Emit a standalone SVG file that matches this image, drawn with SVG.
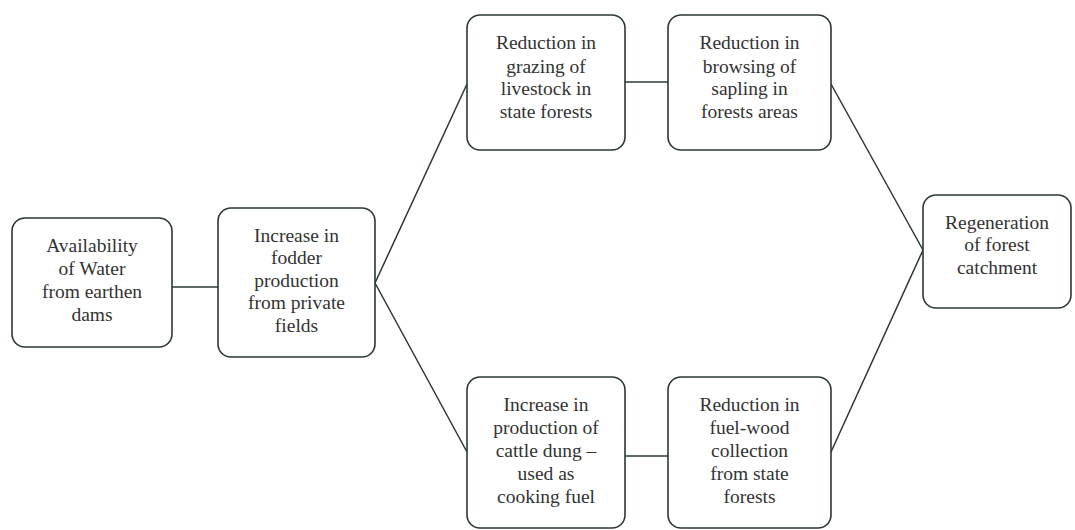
<svg xmlns="http://www.w3.org/2000/svg" width="1075" height="530" viewBox="0 0 1075 530">
  <style>
    .box { fill: #ffffff; stroke: #2b3833; stroke-width: 1.6; }
    .link { stroke: #2b3833; stroke-width: 1.5; fill: none; }
    .lbl { font-family: "Liberation Serif", "Times New Roman", serif; font-size: 19.5px; fill: #333333; text-anchor: middle; }
  </style>
  <rect width="1075" height="530" fill="#ffffff"/>

  <!-- connectors -->
  <g id="connectors">
    <line class="link" x1="172" y1="287" x2="218" y2="287"/>
    <line class="link" x1="375" y1="283" x2="467" y2="84"/>
    <line class="link" x1="375" y1="283" x2="467" y2="452"/>
    <line class="link" x1="625" y1="82" x2="668" y2="82"/>
    <line class="link" x1="625" y1="456" x2="668" y2="456"/>
    <line class="link" x1="831" y1="84" x2="923" y2="250"/>
    <line class="link" x1="831" y1="452" x2="923" y2="250"/>
  </g>

  <g id="node-water">
    <rect class="box" x="12" y="218" width="160" height="129" rx="13"/>
    <text class="lbl" x="92" y="252">Availability</text>
    <text class="lbl" x="92" y="275">of Water</text>
    <text class="lbl" x="92" y="298">from earthen</text>
    <text class="lbl" x="92" y="321">dams</text>
  </g>

  <g id="node-fodder">
    <rect class="box" x="218" y="208" width="157" height="149" rx="13"/>
    <text class="lbl" x="296.5" y="242">Increase in</text>
    <text class="lbl" x="296.5" y="264">fodder</text>
    <text class="lbl" x="296.5" y="287">production</text>
    <text class="lbl" x="296.5" y="309">from private</text>
    <text class="lbl" x="296.5" y="332">fields</text>
  </g>

  <g id="node-grazing">
    <rect class="box" x="467" y="15" width="158" height="135" rx="13"/>
    <text class="lbl" x="546" y="49">Reduction in</text>
    <text class="lbl" x="546" y="73">grazing of</text>
    <text class="lbl" x="546" y="95">livestock in</text>
    <text class="lbl" x="546" y="118">state forests</text>
  </g>

  <g id="node-browsing">
    <rect class="box" x="668" y="15" width="163" height="135" rx="13"/>
    <text class="lbl" x="749.5" y="49">Reduction in</text>
    <text class="lbl" x="749.5" y="73">browsing of</text>
    <text class="lbl" x="749.5" y="95">sapling in</text>
    <text class="lbl" x="749.5" y="118">forests areas</text>
  </g>

  <g id="node-dung">
    <rect class="box" x="467" y="377" width="158" height="151" rx="13"/>
    <text class="lbl" x="546" y="411">Increase in</text>
    <text class="lbl" x="546" y="434">production of</text>
    <text class="lbl" x="546" y="457">cattle dung –</text>
    <text class="lbl" x="546" y="480">used as</text>
    <text class="lbl" x="546" y="503">cooking fuel</text>
  </g>

  <g id="node-fuelwood">
    <rect class="box" x="668" y="377" width="163" height="151" rx="13"/>
    <text class="lbl" x="749.5" y="411">Reduction in</text>
    <text class="lbl" x="749.5" y="434">fuel-wood</text>
    <text class="lbl" x="749.5" y="457">collection</text>
    <text class="lbl" x="749.5" y="480">from state</text>
    <text class="lbl" x="749.5" y="503">forests</text>
  </g>

  <g id="node-regeneration">
    <rect class="box" x="923" y="195" width="148" height="113" rx="13"/>
    <text class="lbl" x="997" y="229">Regeneration</text>
    <text class="lbl" x="997" y="251">of forest</text>
    <text class="lbl" x="997" y="274">catchment</text>
  </g>
</svg>
